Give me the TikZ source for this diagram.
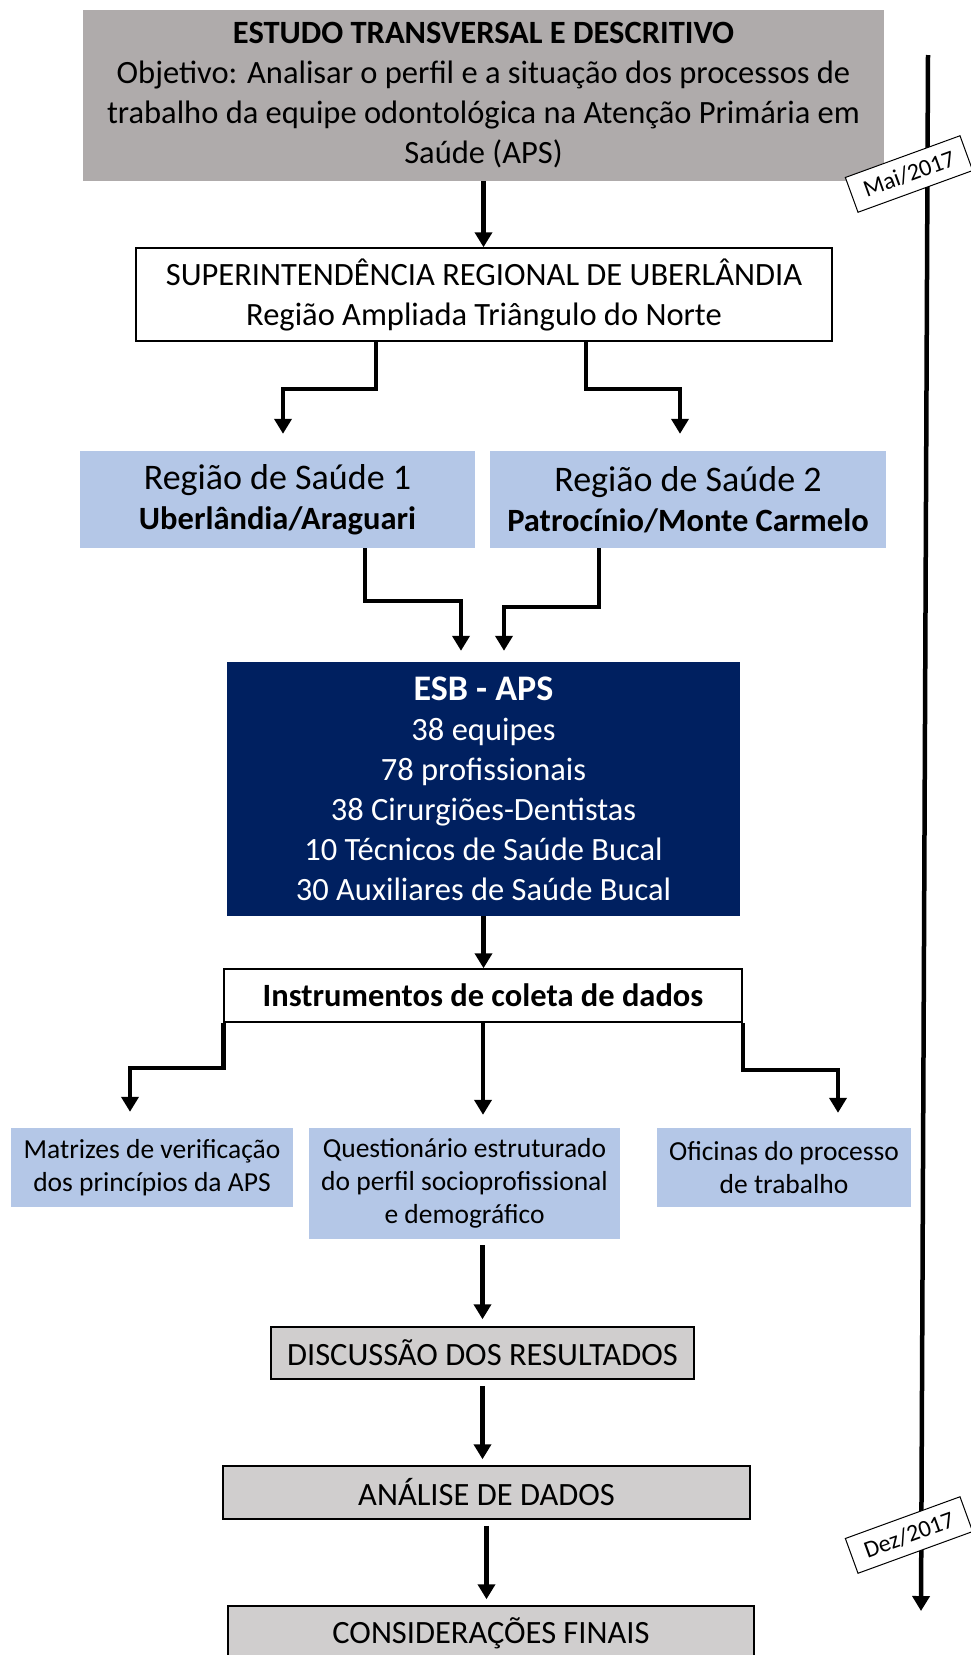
\documentclass[tikz,border=0pt]{standalone}
\usepackage{fontspec}
\setmainfont{Carlito}
\usepackage{xcolor}
\usetikzlibrary{positioning,arrows.meta}
\definecolor{darkgrey}{HTML}{AFABAB}
\definecolor{lightgrey}{HTML}{D0CECE}
\definecolor{lightblue}{HTML}{B4C7E7}
\definecolor{navy}{HTML}{002060}
\tikzset{
box/.style={inner sep=0pt, align=center, font=\fontsize{32.5}{40}\selectfont},
topbox/.style={box, fill=darkgrey},
whitebox/.style={box, draw, line width=1.5pt, fill=white},
regbox/.style={box, fill=lightblue},
esbbox/.style={box, fill=navy, text=white},
smallbox/.style={box, fill=lightblue, font=\fontsize{27.5}{33}\selectfont},
greybox/.style={box, draw, line width=1.5pt, fill=lightgrey},
datebox/.style={draw, fill=white, line width=1pt, inner sep=0pt, minimum width=122pt,
minimum height=37pt, font=\fontsize{24}{26}\selectfont},
arrow/.style={-{Triangle[length=15pt,width=17pt]}, line width=4.5pt}
}

\begin{document}
\begin{tikzpicture}[x=1pt,y=-1pt]
\useasboundingbox (0,0) rectangle (970,1655);
\node[topbox, minimum width=801pt, minimum height=171pt] (est) at (483.5,95.5)
{\textbf{ESTUDO TRANSVERSAL E DESCRITIVO}\\Objetivo: Analisar o perfil e a situação dos processos de\\trabalho da equipe odontológica na Atenção Primária em\\Saúde (APS)};
\node[whitebox, minimum width=696pt, minimum height=93pt] (sup) at (484,294.5)
{SUPERINTENDÊNCIA REGIONAL DE UBERLÂNDIA\\Região Ampliada Triângulo do Norte};
\node[regbox, minimum width=395pt, minimum height=97pt] (r1) at (277.5,499.5)
{{\fontsize{36}{40}\selectfont Região de Saúde 1}\\\textbf{Uberlândia/Araguari}};
\node[regbox, minimum width=396pt, minimum height=97pt] (r2) at (688,499.5)
{{\fontsize{36}{40}\selectfont Região de Saúde 2}\\\textbf{Patrocínio/Monte Carmelo}};
\node[esbbox, minimum width=513pt, minimum height=254pt] (esb) at (483.5,789)
{{\fontsize{36}{42}\selectfont\bfseries ESB - APS}\\38 equipes\\78 profissionais\\38 Cirurgiões-Dentistas\\10 Técnicos de Saúde Bucal\\30 Auxiliares de Saúde Bucal};
\node[whitebox, minimum width=518pt, minimum height=53pt] (inst) at (483,995.5)
{\textbf{Instrumentos de coleta de dados}};
\node[smallbox, minimum width=282pt, minimum height=79pt] (mat) at (152,1167.5)
{Matrizes de verificação\\dos princípios da APS};
\node[smallbox, minimum width=311pt, minimum height=111pt] (que) at (464.5,1183.5)
{Questionário estruturado\\do perfil socioprofissional\\e demográfico};
\node[smallbox, minimum width=254pt, minimum height=79pt] (ofi) at (784,1167.5)
{Oficinas do processo\\de trabalho};
\node[greybox, minimum width=423pt, minimum height=52pt] (dis) at (482.5,1353) {DISCUSSÃO DOS RESULTADOS};
\node[greybox, minimum width=527pt, minimum height=53pt] (ana) at (486.5,1492.5) {ANÁLISE DE DADOS};
\node[greybox, minimum width=526pt, minimum height=54pt] (con) at (491,1633) {CONSIDERAÇÕES FINAIS};

% fluxo principal
\draw[arrow] (est.south) -- (est.south |- sup.north);
\draw[arrow, shorten >=17pt] ([xshift=-108pt]sup.south) -- ++(0,47) -| ([xshift=5.5pt]r1.north);
\draw[arrow, shorten >=17pt] ([xshift=102pt]sup.south) -- ++(0,47) -| ([xshift=-8pt]r2.north);
\draw[arrow, shorten >=11pt] ([xshift=87.5pt]r1.south) -- ++(0,53) -| ([xshift=-22.5pt]esb.north);
\draw[arrow, shorten >=11pt] ([xshift=-89pt]r2.south) -- ++(0,59) -| ([xshift=20.5pt]esb.north);
\draw[arrow] (esb.south) -- (esb.south |- inst.north);
\draw[arrow, shorten >=16pt] (inst.south west) -- ++(0,45) -| ([xshift=-22pt]mat.north);
\draw[arrow, shorten >=13pt] (inst.south) -- (inst.south |- que.north);
\draw[arrow, shorten >=15pt] (inst.south east) -- ++(0,47) -| ([xshift=54pt]ofi.north);
\draw[arrow, shorten <=6pt, shorten >=7pt] (dis.north |- que.south) -- (dis.north);
\foreach \a/\b in {dis/ana,ana/con}
\draw[arrow, shorten <=6pt, shorten >=6pt] (\a.south) -- (\a.south |- \b.north);

% linha do tempo
\coordinate (t0) at (928,55);
\coordinate (t1) at (921,1611);
\draw[arrow] (t0) -- (t1);
\node[datebox, rotate=20] (mai) at (909,174) {Mai/2017};
\node[datebox, rotate=20] (dez) at (909,1535) {Dez/2017};
\end{tikzpicture}
\end{document}
